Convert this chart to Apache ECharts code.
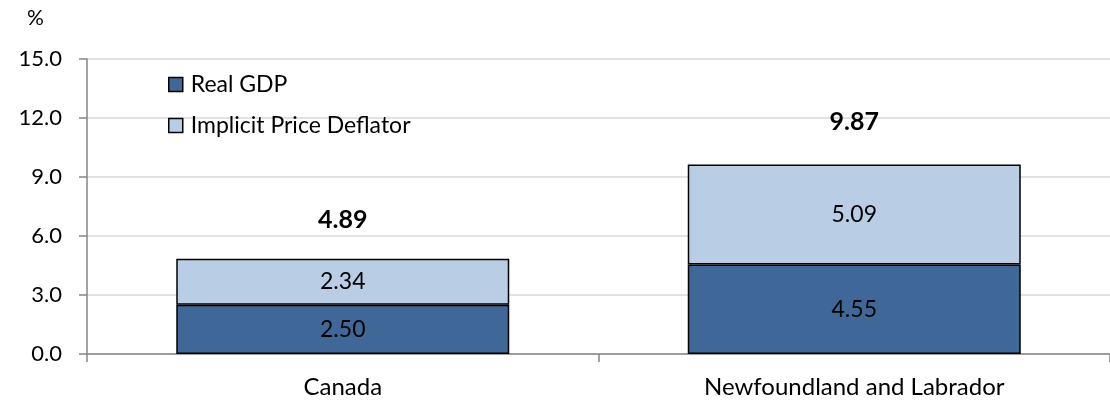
<!DOCTYPE html>
<html>
<head>
<meta charset="utf-8">
<script src="https://cdn.jsdelivr.net/npm/echarts@6/dist/echarts.min.js"></script>
<style>html,body{margin:0;padding:0;background:#fff}#c{width:1110px;height:402px}</style>
</head>
<body>
<div id="c"></div>
<script>
var categories = ['Canada', 'Newfoundland and Labrador'];
var realGDP = [2.50, 4.55];
var deflator = [2.34, 5.09];
var totals = [4.89, 9.87];
var yTicks = [0, 3, 6, 9, 12, 15];

var FONT = 'Lato';
var chart = echarts.init(document.getElementById('c'), null, {renderer: 'canvas'});
chart.setOption({
  animation: false,
  backgroundColor: '#fff',
  textStyle: {fontFamily: FONT},
  graphic: [{type: 'text', left: 27, top: 8, style: {text: '%', font: '21px ' + FONT, fill: '#000'}}],
  legend: {
    orient: 'vertical', left: 168, top: 73, itemGap: 18, padding: 0,
    itemWidth: 14, itemHeight: 14, icon: 'rect',
    textStyle: {fontSize: 23, fontFamily: FONT, color: '#000', padding: [0, 0, 0, 3]},
    itemStyle: {borderColor: '#000', borderWidth: 1.5},
    data: ['Real GDP', 'Implicit Price Deflator']
  },
  grid: {left: 87, top: 59, width: 1032, height: 295, containLabel: false},
  xAxis: {
    type: 'category', data: categories,
    axisLine: {lineStyle: {color: '#868686', width: 1.5}},
    axisTick: {show: true, length: 8, lineStyle: {color: '#868686', width: 1.5}},
    axisLabel: {fontSize: 24, color: '#000', margin: 21, fontFamily: FONT}
  },
  yAxis: {
    type: 'value', min: yTicks[0], max: yTicks[yTicks.length - 1], interval: 3,
    axisLine: {show: true, lineStyle: {color: '#868686', width: 1.5}},
    axisTick: {show: true, length: 8, lineStyle: {color: '#868686', width: 1.5}},
    axisLabel: {fontSize: 22, color: '#000', margin: 25, fontFamily: FONT,
      formatter: function (v) { return v.toFixed(1); }},
    splitLine: {lineStyle: {color: '#D9D9D9', width: 1.5}}
  },
  series: [
    {
      name: 'Real GDP', type: 'bar', stack: 't', data: realGDP, barWidth: 333,
      itemStyle: {color: '#3F6797', borderColor: '#000', borderWidth: 1.5},
      label: {show: true, position: 'inside', fontSize: 23, color: '#000', fontFamily: FONT,
        formatter: function (p) { return p.value.toFixed(2); }}
    },
    {
      name: 'Implicit Price Deflator', type: 'bar', stack: 't', data: deflator, barWidth: 333,
      itemStyle: {color: '#B9CDE5', borderColor: '#000', borderWidth: 1.5},
      label: {show: true, position: 'inside', fontSize: 23, color: '#000', fontFamily: FONT,
        formatter: function (p) { return p.value.toFixed(2); }},
      markPoint: {
        symbol: 'rect', symbolSize: 1, itemStyle: {color: 'rgba(0,0,0,0)'},
        label: {show: true, position: 'top', distance: 25, fontSize: 25, fontWeight: 'bold', color: '#000', fontFamily: FONT,
          formatter: function (p) { return p.value.toFixed(2); }},
        data: categories.map(function (c, i) {
          return {name: c, value: totals[i], coord: [c, totals[i]]};
        })
      }
    }
  ]
});
</script>
</body>
</html>
